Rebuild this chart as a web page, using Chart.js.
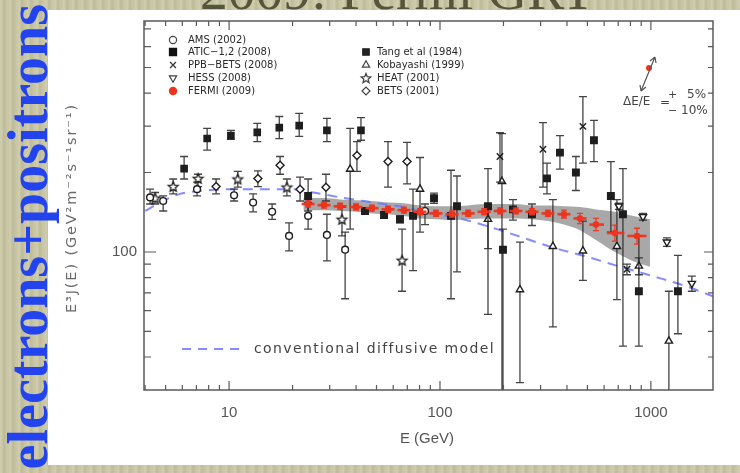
<!DOCTYPE html>
<html lang="en">
<head>
<meta charset="UTF-8">
<title>electrons+positrons</title>
<script src="https://cdn.jsdelivr.net/npm/chart.js"></script>
<style>
  html, body { margin: 0; padding: 0; }
  body {
    width: 740px; height: 473px; overflow: hidden;
    background-color: #c8c5a4;
    background-image: repeating-linear-gradient(90deg,
      rgba(255,255,240,0.12) 0px, rgba(255,255,240,0.12) 2px,
      rgba(90,85,50,0.07) 3px, rgba(90,85,50,0.07) 5px,
      rgba(255,255,240,0.04) 7px, rgba(255,255,240,0.04) 9px);
  }
  #myChart { position: absolute; left: 0; top: 0; filter: blur(0.45px); }
</style>
</head>
<body>
<canvas id="myChart" width="740" height="473"></canvas>
<script>
// axis ticks
var xTicks = [4, 5, 6, 7, 8, 9, 10, 20, 30, 40, 50, 60, 70, 80, 90, 100, 200, 300, 400, 500, 600, 700, 800, 900, 1000];
var xLabels = [10, 100, 1000];
var yTicks = [30, 40, 50, 60, 70, 80, 90, 100, 200, 300, 400, 500, 600, 700];
var yLabels = [100];

// FERMI (2009)
var fermiE  = [23.7, 28.2, 33.6, 40.0, 47.6, 56.7, 67.5, 80.4, 95.7, 114, 136, 162, 193, 229, 273, 325, 387, 461, 549, 675, 859];
var fermiV  = [152, 150.5, 149, 148, 146.6, 145, 144, 142, 140, 139, 140, 142, 143, 143, 142, 140, 139, 134, 127, 118, 115];
var fermiHi = [156, 154.5, 153, 152, 150.5, 149, 148, 146, 144, 143, 144, 146, 147, 147, 146, 144, 144, 140, 134, 126.5, 123];
var fermiLo = [148, 146.7, 145, 144.2, 142.9, 141.3, 140.4, 138.4, 136.5, 135.5, 136.5, 138.4, 139.4, 139.4, 138.4, 136.5, 134.5, 128, 120.5, 110, 107];

// systematic band
var bandE  = [22.5, 28.2, 33.6, 40.0, 47.6, 56.7, 67.5, 80.4, 95.7, 114, 136, 162, 193, 229, 273, 325, 387, 461, 549, 675, 859, 990];
var bandHi = [160, 160, 158, 157, 156, 154, 153, 150, 149, 149, 150, 152, 152, 152, 150, 150, 149, 148, 145, 142, 136, 133];
var bandLo = [144, 144, 143, 142, 140, 139, 137, 134, 133, 132, 133, 134, 134, 134, 133, 131, 127, 121, 111, 100, 91, 88];

// conventional diffusive model
var modelE = [4.0, 4.71, 5.86, 7.69, 10.1, 13.6, 19.5, 25.0, 33.6, 48.1, 66.8, 83.0, 128.5, 199, 343, 497, 713, 1022, 1481, 1967];
var modelV = [143, 154, 166, 171, 173, 173, 173, 168, 161, 154, 148, 142, 133, 120, 104, 96, 88, 81, 74, 68];

// AMS (2002)
var amsE  = [4.22, 4.87, 7.05, 10.56, 13.0, 16.0, 19.25, 23.7, 29.1, 35.5, 84.9];
var amsV  = [161, 156, 173, 164, 154, 142, 115, 137, 116, 102, 143];
var amsHi = [173, 163, 184, 173, 166, 152, 129, 154, 139, 119, 152];
var amsLo = [152, 143, 163, 156, 142, 133, 101, 122, 92.5, 66.5, 127];

// ATIC-1,2 (2008)
var aticE  = [23.7, 44.1, 54.3, 64.6, 74.5, 93.7, 112.8, 120.4, 168.9, 198.9, 221.8, 272.9, 321.6, 370.5, 441, 537, 646, 737, 877, 1343];
var aticV  = [163, 143, 138, 133, 137, 160, 137, 149, 149, 102, 145, 139, 190, 238, 200, 265, 163, 139, 71, 71];
var aticHi = [189, 147, 142, 137, 173, 167, 204, 194, 207, 122, 158, 152, 217, 276, 230, 315, 220, 207, 115, 97];
var aticLo = [143, 139, 134, 129, 85, 153, 66.5, 84, 103, 20, 132, 126, 166, 206, 171, 220, 119, 44, 44, 49];

// PPB-BETS (2008)
var ppbE  = [192.5, 307.8, 476, 770];
var ppbV  = [230, 245, 299, 86];
var ppbHi = [283, 309, 388, 90];
var ppbLo = [184, 176, 217, 82];

// HESS (2008)
var hessE  = [705, 917, 1191, 1564];
var hessV  = [149, 136, 109, 76];
var hessHi = [153, 140, 113, 81];
var hessLo = [145, 132, 105, 71];

// Tang et al (1984)
var tangE  = [6.12, 7.87, 10.2, 13.6, 17.3, 21.5, 29.1, 42.2];
var tangV  = [207, 269, 276, 284, 296, 301, 289, 289];
var tangHi = [230, 294, 289, 307, 326, 335, 321, 323];
var tangLo = [189, 243, 267, 262, 269, 274, 262, 265];

// Kobayashi (1999)
var kobE  = [37.5, 80.4, 168.9, 196.7, 239.4, 343, 476, 690, 877, 1217];
var kobV  = [206, 173, 133, 185, 72, 105, 101, 105, 88.5, 46];
var kobHi = [294, 228, 148, 281, 109, 158, 131, 158, 95, 71];
var kobLo = [122, 119, 58, 20, 32, 52, 78, 66, 82, 20];

// HEAT (2001)
var heatE  = [4.46, 5.43, 7.13, 11.0, 18.8, 34.3, 66.1];
var heatV  = [160, 177, 190, 189, 176, 133, 93];
var heatHi = [168, 189, 197, 202, 189, 148, 122];
var heatLo = [152, 166, 177, 176, 163, 115, 71];

// BETS (2001)
var betsE  = [8.68, 13.7, 17.45, 21.7, 28.8, 40.4, 56.7, 69.8];
var betsV  = [177, 190, 213, 173, 176, 232, 220, 220];
var betsHi = [189, 203, 230, 192, 197, 262, 262, 260];
var betsLo = [166, 177, 197, 156, 156, 202, 176, 181];

function toPoints(xs, ys) {
    return xs.map(function (x, i) { return { x: x, y: ys[i] }; });
}

// outline star marker (chart.js 'star' is an asterisk)
function starMarker(r, color) {
    var c = document.createElement('canvas');
    var s = Math.ceil(r * 2 + 4);
    c.width = s; c.height = s;
    var g = c.getContext('2d');
    g.strokeStyle = color;
    g.fillStyle = '#ffffff';
    g.lineWidth = 1.3;
    g.beginPath();
    for (var k = 0; k < 10; k++) {
        var rr = k % 2 === 0 ? r : r * 0.45;
        var a = -Math.PI / 2 + k * Math.PI / 5;
        var px = s / 2 + rr * Math.cos(a), py = s / 2 + 0.5 + rr * Math.sin(a);
        if (k === 0) g.moveTo(px, py); else g.lineTo(px, py);
    }
    g.closePath();
    g.fill();
    g.stroke();
    return c;
}
var starImg = starMarker(5.2, '#1e1e1e');

function series(label, xs, ys, hi, lo, style, filled, radius, rotation) {
    return {
        label: label,
        data: toPoints(xs, ys),
        errHi: hi,
        errLo: lo,
        errColor: 'rgba(35,35,35,0.85)',
        showLine: false,
        pointStyle: style,
        pointRadius: radius,
        pointRotation: rotation || 0,
        pointBorderWidth: 1.4,
        pointBorderColor: '#1e1e1e',
        pointBackgroundColor: filled ? '#1e1e1e' : '#ffffff',
        borderColor: '#1e1e1e',
        backgroundColor: filled ? '#1e1e1e' : '#ffffff'
    };
}

var datasets = [
    {
        label: 'FERMI (2009)',
        data: toPoints(fermiE, fermiV),
        errHi: fermiHi,
        errLo: fermiLo,
        errColor: 'rgba(236,52,30,0.95)',
        binBars: true,
        showLine: false,
        pointStyle: 'circle',
        pointRadius: 3.3,
        pointBorderWidth: 0,
        pointBackgroundColor: '#ec341e',
        backgroundColor: '#ec341e',
        borderColor: '#ec341e'
    },
    series('ATIC-1,2 (2008)', aticE, aticV, aticHi, aticLo, 'rect', true, 4.6),
    series('Tang et al (1984)', tangE, tangV, tangHi, tangLo, 'rect', true, 4.4),
    series('PPB-BETS (2008)', ppbE, ppbV, ppbHi, ppbLo, 'crossRot', false, 4.5),
    series('HESS (2008)', hessE, hessV, hessHi, hessLo, 'triangle', false, 4.2, 180),
    series('AMS (2002)', amsE, amsV, amsHi, amsLo, 'circle', false, 3.4),
    series('Kobayashi (1999)', kobE, kobV, kobHi, kobLo, 'triangle', false, 4.2),
    series('HEAT (2001)', heatE, heatV, heatHi, heatLo, starImg, false, 5),
    series('BETS (2001)', betsE, betsV, betsHi, betsLo, 'rectRot', false, 4.0),
    {
        type: 'line',
        label: 'conventional diffusive model',
        data: toPoints(modelE, modelV),
        borderColor: 'rgba(112,120,255,0.85)',
        borderWidth: 2,
        borderDash: [10, 7],
        pointRadius: 0,
        cubicInterpolationMode: 'monotone',
        fill: false
    },
    {
        type: 'line',
        label: 'band high',
        data: toPoints(bandE, bandHi),
        borderWidth: 0,
        borderColor: 'rgba(0,0,0,0)',
        backgroundColor: 'rgba(110,110,110,0.6)',
        pointRadius: 0,
        cubicInterpolationMode: 'monotone',
        fill: '+1'
    },
    {
        type: 'line',
        label: 'band low',
        data: toPoints(bandE, bandLo),
        borderWidth: 0,
        borderColor: 'rgba(0,0,0,0)',
        pointRadius: 0,
        cubicInterpolationMode: 'monotone',
        fill: false
    }
];

// error bars, drawn under each dataset's markers
var errorBars = {
    id: 'errorBars',
    beforeDatasetDraw: function (chart, args) {
        var ds = chart.data.datasets[args.index];
        if (!ds.errHi) return;
        var ctx = chart.ctx, xs = chart.scales.x, ys = chart.scales.y, ca = chart.chartArea;
        ctx.save();
        ctx.beginPath();
        ctx.rect(ca.left, ca.top, ca.right - ca.left, ca.bottom - ca.top);
        ctx.clip();
        ctx.strokeStyle = ds.errColor;
        ctx.lineWidth = 1.3;
        var cap = ds.binBars ? 3 : 4;
        ds.data.forEach(function (p, i) {
            var x = xs.getPixelForValue(p.x);
            var yh = ys.getPixelForValue(ds.errHi[i]);
            var yl = ys.getPixelForValue(ds.errLo[i]);
            ctx.beginPath();
            ctx.moveTo(x, yh); ctx.lineTo(x, yl);
            ctx.moveTo(x - cap, yh); ctx.lineTo(x + cap, yh);
            ctx.moveTo(x - cap, yl); ctx.lineTo(x + cap, yl);
            ctx.stroke();
        });
        if (ds.binBars) {
            ctx.lineWidth = 2.6;
            var d = ds.data;
            d.forEach(function (p, i) {
                var prev = i > 0 ? d[i - 1].x : p.x * p.x / d[i + 1].x;
                var next = i < d.length - 1 ? d[i + 1].x : p.x * p.x / d[i - 1].x;
                var x0 = xs.getPixelForValue(Math.sqrt(prev * p.x)) + 1.5;
                var x1 = xs.getPixelForValue(Math.sqrt(next * p.x)) - 1.5;
                var y = ys.getPixelForValue(p.y);
                ctx.beginPath();
                ctx.moveTo(x0, y); ctx.lineTo(x1, y);
                ctx.stroke();
            });
        }
        ctx.restore();
    }
};

function sym(ctx, style, x, y, r, filled, color, rotation) {
    ctx.save();
    ctx.fillStyle = filled ? color : '#ffffff';
    ctx.strokeStyle = color;
    Chart.helpers.drawPoint(ctx, { pointStyle: style, radius: r, rotation: rotation || 0, borderWidth: 1.3 }, x, y);
    ctx.restore();
}

// draw text scaled so it spans the given width
function fitText(ctx, text, x, y, width, font, size, spacing) {
    ctx.letterSpacing = (spacing || 0) + 'px';
    ctx.font = size + 'px ' + font;
    var w = ctx.measureText(text).width;
    ctx.font = (size * width / w) + 'px ' + font;
    ctx.fillText(text, x, y);
    ctx.letterSpacing = '0px';
}

// draw text at a fixed size, spreading letters to span the width
function spreadText(ctx, text, x, y, width, font, size) {
    ctx.font = size + 'px ' + font;
    var w = ctx.measureText(text).width;
    ctx.letterSpacing = Math.max(0, (width - w) / text.length) + 'px';
    ctx.fillText(text, x, y);
    ctx.letterSpacing = '0px';
}

var decor = {
    id: 'decor',
    beforeDraw: function (chart) {
        var ctx = chart.ctx;
        ctx.save();
        // slide title, mostly cut off at the top
        ctx.fillStyle = '#56553b';
        ctx.textBaseline = 'alphabetic';
        fitText(ctx, '2009: Fermi GRT', 200, 9, 395, '"Liberation Serif"', 48);
        // white plot panel
        ctx.fillStyle = '#ffffff';
        ctx.fillRect(48, 10, 692, 455);
        ctx.restore();
    },
    afterDraw: function (chart) {
        var ctx = chart.ctx, ca = chart.chartArea, xs = chart.scales.x, ys = chart.scales.y;
        ctx.save();
        // frame
        ctx.strokeStyle = '#5a5a5a';
        ctx.lineWidth = 1.5;
        ctx.strokeRect(ca.left, ca.top, ca.right - ca.left, ca.bottom - ca.top);
        // inward ticks on all sides
        ctx.lineWidth = 1.2;
        ctx.beginPath();
        xs.ticks.forEach(function (t) {
            var px = xs.getPixelForValue(t.value);
            if (px <= ca.left + 1 || px >= ca.right - 1) return;
            var len = t.major ? 9 : 5;
            ctx.moveTo(px, ca.bottom); ctx.lineTo(px, ca.bottom - len);
            ctx.moveTo(px, ca.top); ctx.lineTo(px, ca.top + len);
        });
        ys.ticks.forEach(function (t) {
            var py = ys.getPixelForValue(t.value);
            if (py <= ca.top + 1 || py >= ca.bottom - 1) return;
            var len = t.value === 100 ? 12 : 7;
            ctx.moveTo(ca.left, py); ctx.lineTo(ca.left + len, py);
            ctx.moveTo(ca.right, py); ctx.lineTo(ca.right - (t.value === 100 ? 9 : 5), py);
        });
        ctx.stroke();

        // axis titles
        ctx.fillStyle = '#555555';
        ctx.font = '15px "Liberation Sans"';
        ctx.textAlign = 'center';
        ctx.textBaseline = 'middle';
        ctx.fillText('E (GeV)', 427, 439);
        ctx.save();
        ctx.translate(72, 208);
        ctx.rotate(-Math.PI / 2);
        ctx.fillStyle = '#6a6a6a';
        ctx.textAlign = 'left';
        spreadText(ctx, 'E\u00B3J(E) (GeV\u00B2m\u207B\u00B2s\u207B\u00B9sr\u207B\u00B9)', -105, 0, 210, '"DejaVu Sans"', 14.5);
        ctx.restore();

        // legend
        ctx.font = '10px "DejaVu Sans"';
        ctx.textAlign = 'left';
        ctx.textBaseline = 'middle';
        var col1 = [['AMS (2002)', 'circle', false, 3.6, '#444', 0],
                    ['ATIC\u22121,2 (2008)', 'rect', true, 5, '#111', 0],
                    ['PPB\u2212BETS (2008)', 'crossRot', false, 4.2, '#333', 0],
                    ['HESS (2008)', 'triangle', false, 4.2, '#444', 180],
                    ['FERMI (2009)', 'circle', true, 3.6, '#ec341e', 0]];
        var rows1 = [40, 52, 65, 78, 91];
        col1.forEach(function (e, i) {
            sym(ctx, e[1], 173, rows1[i], e[3], e[2], e[4], e[5]);
            ctx.fillStyle = '#2a2a2a';
            ctx.fillText(e[0], 188, rows1[i]);
        });
        var col2 = [['Tang et al (1984)', 'rect', true, 4.6, '#222', 0],
                    ['Kobayashi (1999)', 'triangle', false, 4.2, '#444', 0],
                    ['HEAT (2001)', starMarker(5, '#444'), false, 5, '#444', 0],
                    ['BETS (2001)', 'rectRot', false, 4, '#444', 0]];
        var rows2 = [52, 65, 78, 91];
        col2.forEach(function (e, i) {
            sym(ctx, e[1], 366, rows2[i], e[3], e[2], e[4], e[5]);
            ctx.fillStyle = '#2a2a2a';
            ctx.fillText(e[0], 377, rows2[i]);
        });

        // model legend
        ctx.strokeStyle = 'rgba(112,120,255,0.85)';
        ctx.lineWidth = 2;
        ctx.setLineDash([9, 7]);
        ctx.beginPath();
        ctx.moveTo(182, 349); ctx.lineTo(240, 349);
        ctx.stroke();
        ctx.setLineDash([]);
        ctx.fillStyle = '#444444';
        fitText(ctx, 'conventional diffusive model', 254, 349, 244, '"DejaVu Sans"', 13, 1.4);

        // energy resolution note
        ctx.fillStyle = '#ec341e';
        ctx.beginPath();
        ctx.arc(649, 68, 3, 0, Math.PI * 2);
        ctx.fill();
        ctx.strokeStyle = '#555555';
        ctx.lineWidth = 1.2;
        ctx.beginPath();
        ctx.moveTo(641, 91); ctx.lineTo(655, 57);
        ctx.moveTo(655, 57); ctx.lineTo(650, 61);
        ctx.moveTo(655, 57); ctx.lineTo(656, 63);
        ctx.moveTo(641, 91); ctx.lineTo(640, 85);
        ctx.moveTo(641, 91); ctx.lineTo(646, 87);
        ctx.stroke();
        ctx.fillStyle = '#444444';
        ctx.font = '12px "DejaVu Sans"';
        ctx.textBaseline = 'middle';
        ctx.fillText('\u0394E/E', 623, 102);
        ctx.fillText('=', 660, 103);
        ctx.font = '11px "DejaVu Sans"';
        ctx.fillText('+', 668, 95);
        ctx.fillText('\u2212', 668, 111);
        ctx.font = '12px "DejaVu Sans"';
        ctx.fillText('5%', 687, 95);
        ctx.fillText('10%', 681, 111);

        // slide side label
        ctx.save();
        ctx.translate(47, 4);
        ctx.rotate(-Math.PI / 2);
        ctx.font = 'bold 56px "Liberation Serif"';
        ctx.fillStyle = '#2243ee';
        ctx.textAlign = 'right';
        ctx.textBaseline = 'alphabetic';
        ctx.fillText('electrons+positrons', 0, 0);
        ctx.restore();
        ctx.restore();
    }
};

var ctx = document.getElementById('myChart').getContext('2d');
var myChart = new Chart(ctx, {
    type: 'scatter',
    data: { datasets: datasets },
    options: {
        responsive: false,
        animation: false,
        devicePixelRatio: 1,
        layout: { padding: { left: 0, right: 27, top: 21, bottom: 0 } },
        plugins: { legend: { display: false }, tooltip: { enabled: false } },
        scales: {
            x: {
                type: 'logarithmic',
                min: 3.95,
                max: 1970,
                afterBuildTicks: function (s) {
                    s.ticks = xTicks.map(function (v) { return { value: v, major: xLabels.indexOf(v) >= 0 }; });
                },
                afterFit: function (s) { s.height = 83; },
                grid: { display: false, drawTicks: false },
                border: { display: false },
                ticks: {
                    autoSkip: false,
                    maxRotation: 0,
                    padding: 14,
                    color: '#555555',
                    font: { family: 'Liberation Sans', size: 15 },
                    callback: function (v) { return xLabels.indexOf(v) >= 0 ? String(v) : ''; }
                }
            },
            y: {
                type: 'logarithmic',
                min: 30,
                max: 750,
                afterBuildTicks: function (s) {
                    s.ticks = yTicks.map(function (v) { return { value: v, major: yLabels.indexOf(v) >= 0 }; });
                },
                afterFit: function (s) { s.width = 144; },
                grid: { display: false, drawTicks: false },
                border: { display: false },
                ticks: {
                    autoSkip: false,
                    padding: 7,
                    color: '#555555',
                    font: { family: 'Liberation Sans', size: 15 },
                    callback: function (v) { return yLabels.indexOf(v) >= 0 ? String(v) : ''; }
                }
            }
        }
    },
    plugins: [decor, errorBars]
});
</script>
</body>
</html>
